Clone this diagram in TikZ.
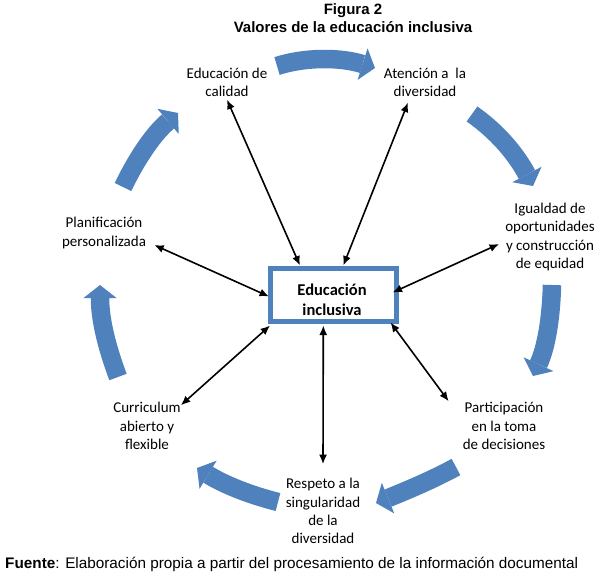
\documentclass[tikz,border=0pt]{standalone}
\usepackage{fontspec}
\setmainfont{Carlito}
\newfontfamily\arialfont{Liberation Sans}
\usetikzlibrary{arrows.meta}
\definecolor{cycleblue}{RGB}{79,129,189}
\tikzset{
  lbl/.style={align=center, inner sep=2pt, font=\fontsize{15}{18.3}\selectfont},
  bluearrow/.style={draw=cycleblue, line width=18.5pt, line cap=butt,
    -{Triangle[length=13pt,width=33pt,line width=0pt]}},
  biarrow/.style={draw=black, line width=1.6pt,
    {Latex[length=9.5pt,width=8pt]}-{Latex[length=9.5pt,width=8pt]}},
  centerbox/.style={draw=cycleblue, line width=5pt, minimum width=125.5pt,
    minimum height=53pt, inner sep=0pt},
  centertext/.style={align=center, inner sep=0pt,
    font=\fontsize{16.5}{20.5}\selectfont\bfseries},
  titlefont/.style={font=\arialfont\fontsize{15}{17}\selectfont\bfseries},
}
\begin{document}
\begin{tikzpicture}[x=1pt,y=-1pt]
\useasboundingbox (0,0) rectangle (604,576);

% title
\node[titlefont] (fig) at (353,10.5) {Figura 2};
\node[titlefont] (title) at (353,27.5) {Valores de la educación inclusiva};

% blue cycle arrows
\draw[bluearrow] (277,66) .. controls (305,57) and (340,57) .. (375,68);
\draw[bluearrow] (472,114) .. controls (495,130) and (515,152) .. (533,186);
\draw[bluearrow] (552,285) .. controls (551,320) and (546,348) .. (533,376);
\draw[bluearrow] (456,467) .. controls (432,480) and (408,490) .. (376,503);
\draw[bluearrow] (278,502) .. controls (250,495) and (225,485) .. (197,468);
\draw[bluearrow] (118,377) .. controls (106,345) and (100,318) .. (100,285);
\draw[bluearrow] (123,187) .. controls (135,162) and (152,135) .. (178,113);

% center
\node[centerbox] (box) at (333.3,294.5) {};
\node[centertext] (boxtext) at (332,300) {Educación\\inclusiva};

% labels
\node[lbl] (cal) at (227,82) {Educación de\\calidad};
\node[lbl] (aten) at (425,82) {Atención a\ \ la\\diversidad};
\node[lbl] (igu) at (550,237) {Igualdad de\\oportunidades\\y construcción\\de equidad};
\node[lbl] (plan) at (104,233) {Planificación\\personalizada};
\node[lbl] (curr) at (147,426) {Curriculum\\abierto y\\flexible};
\node[lbl] (resp) at (323,511) {Respeto a la\\singularidad\\de la\\diversidad};
\node[lbl] (part) at (504,426) {Participación\\en la toma\\de decisiones};

% connectors
\draw[biarrow] (box.139) -- ([yshift=-1pt]cal.south);
\draw[biarrow] ([xshift=10pt]box.north) -- ([xshift=-17pt,yshift=-4pt]aten.south);
\draw[biarrow] ([xshift=-6pt,yshift=2pt]box.east) -- ([xshift=-4pt,yshift=-7pt]igu.west);
\draw[biarrow] ([xshift=1pt,yshift=-2pt]box.west) -- ([xshift=6pt,yshift=-12pt]plan.east);
\draw[biarrow] ([xshift=2pt,yshift=-2pt]box.south west) -- ([xshift=-2pt,yshift=-5pt]curr.north east);
\draw[biarrow] ([xshift=-10pt,yshift=-2pt]box.south) -- ([yshift=12pt]resp.north);
\draw[biarrow] ([xshift=-8pt,yshift=1pt]box.south east) -- ([xshift=-12pt,yshift=-1pt]part.north west);

% footer
\node[anchor=base west, inner sep=0pt, font=\arialfont\fontsize{15.3}{18}\selectfont] (src) at (5,568) {\textbf{Fuente}: Elaboración propia a partir del procesamiento de la información documental};
\end{tikzpicture}
\end{document}
